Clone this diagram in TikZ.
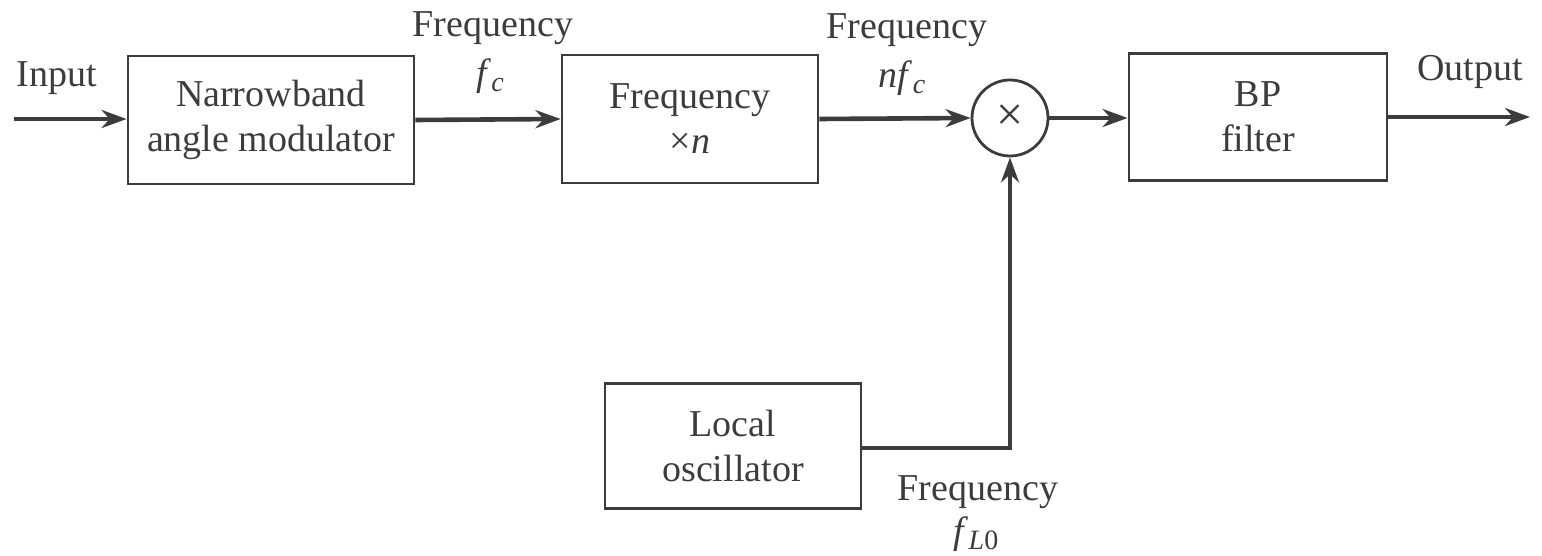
\documentclass[tikz,border=0pt]{standalone}
\usepackage{fontspec}
\setmainfont{Liberation Serif}
\usetikzlibrary{arrows.meta}
\definecolor{ink}{HTML}{3C3C3C}
\newcommand{\mysub}[1]{\raisebox{-0.35ex}{\fontsize{14}{14}\selectfont #1}}
\begin{document}
\begin{tikzpicture}[x=0.5pt,y=-0.5pt,
  every node/.style={text=ink, font=\fontsize{19}{22.5}\selectfont},
  blk/.style={draw=ink, line width=1.4pt, rectangle, align=center, inner sep=0pt},
  sig/.style={draw=ink, line width=2.3pt, -{Stealth[length=12.5pt,width=9pt]}},
  lbl/.style={inner sep=0pt, anchor=center}]
\useasboundingbox (0,0) rectangle (1542,556);
\coordinate (in) at (14,119);
\node[blk, minimum width=143pt, minimum height=64pt] (nb) at (271,120) {Narrowband\\angle modulator};
\node[blk, minimum width=128pt, minimum height=64pt] (fm) at (690,119) {Frequency\\\texttimes\textit{n}};
\node[draw=ink, line width=1.4pt, circle, minimum size=38pt, inner sep=0pt] (mix) at (1010,118) {\fontsize{24}{24}\selectfont\texttimes};
\node[blk, minimum width=129pt, minimum height=63.5pt] (bp) at (1258,117) {BP\\filter};
\coordinate (out) at (1530,117);
\node[blk, minimum width=128pt, minimum height=62.5pt] (lo) at (733,446) {Local\\oscillator};

\draw[sig] (in) -- (nb.west |- in);
\draw[sig] (nb.east) -- (fm.west);
\draw[sig] (fm.east) -- (mix.west);
\draw[sig] (mix.east) -- (bp.west |- mix.east);
\draw[sig] (bp.east |- out) -- (out);
\draw[sig] (lo.east |- 0,448) -| (mix.south);

\node[lbl] (tin) at (57,78) {Input};
\node[lbl] (tf1) at (493,28) {Frequency};
\node[lbl] (tf1v) at (490,76) {\textit{f}\mysub{\textit{c}}};
\node[lbl] (tf2) at (907,30) {Frequency};
\node[lbl] (tf2v) at (902,78) {\textit{nf}\mysub{\textit{c}}};
\node[lbl] (tout) at (1470,72) {Output};
\node[lbl] (tf3) at (978,492) {Frequency};
\node[lbl] (tf3v) at (976,534) {\textit{f}\mysub{\textit{L}0}};
\end{tikzpicture}
\end{document}
